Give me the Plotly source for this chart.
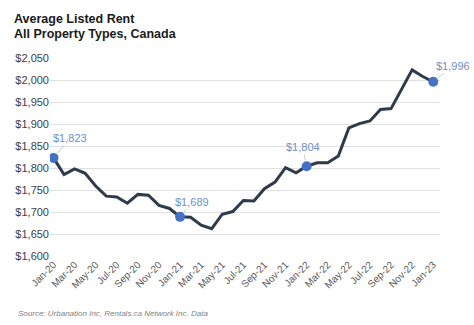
import plotly.graph_objects as go

months = ["Jan-20","Feb-20","Mar-20","Apr-20","May-20","Jun-20","Jul-20","Aug-20","Sep-20","Oct-20","Nov-20","Dec-20",
          "Jan-21","Feb-21","Mar-21","Apr-21","May-21","Jun-21","Jul-21","Aug-21","Sep-21","Oct-21","Nov-21","Dec-21",
          "Jan-22","Feb-22","Mar-22","Apr-22","May-22","Jun-22","Jul-22","Aug-22","Sep-22","Oct-22","Nov-22","Dec-22",
          "Jan-23"]
rent = [1823,1785,1798,1788,1759,1736,1734,1720,1740,1738,1715,1708,
        1689,1688,1670,1662,1695,1701,1726,1725,1753,1768,1801,1789,
        1804,1812,1812,1827,1891,1901,1907,1933,1935,1978,2023,2008,
        1996]
highlight_idx = [0, 12, 24, 36]
label_offsets = [(17, -20), (12, -15), (-4, -19), (20, -16)]
y_ticks = list(range(1600, 2051, 50))
title_lines = ["Average Listed Rent", "All Property Types, Canada"]

x = list(range(len(months)))
fig = go.Figure()
fig.add_trace(go.Scatter(x=x, y=rent, mode="lines",
                         line=dict(color="#2f3a4b", width=3), hoverinfo="skip"))
fig.add_trace(go.Scatter(x=[x[i] for i in highlight_idx], y=[rent[i] for i in highlight_idx],
                         mode="markers", marker=dict(color="#4472c4", size=10), hoverinfo="skip"))

for i, (ax, ay) in zip(highlight_idx, label_offsets):
    fig.add_annotation(x=x[i], y=rent[i], text=f"${rent[i]:,}", showarrow=True,
                       arrowhead=0, arrowwidth=1, arrowcolor="#c8c8c8", ax=ax, ay=ay,
                       standoff=6, font=dict(family="Liberation Sans", size=11, color="#6f8fc4"))

PH = 198.0
for k, (line, ypix) in enumerate(zip(title_lines, [19, 34])):
    fig.add_annotation(xref="paper", yref="paper", x=-38/390, y=(256 - ypix) / PH,
                       xanchor="left", yanchor="middle", align="left", showarrow=False,
                       text=f"<b>{line}</b>",
                       font=dict(family="Liberation Sans", size=12.5, color="#1a1a1a"))
fig.add_annotation(xref="paper", yref="paper", x=-34/390, y=-(313-256)/PH,
                   xanchor="left", yanchor="middle", showarrow=False,
                   text="<i>Source: Urbanation Inc, Rentals.ca Network Inc. Data</i>",
                   font=dict(family="Liberation Sans", size=8, color="#7f7f7f"))

fig.update_layout(
    width=474, height=325, margin=dict(l=50, r=34, t=58, b=69),
    paper_bgcolor="white", plot_bgcolor="white", showlegend=False,
    font=dict(family="Liberation Sans", color="#404040"),
    xaxis=dict(range=[-0.33, 36.64], tickvals=x[::2], ticktext=months[::2], tickangle=-45,
               showgrid=False, zeroline=False, showline=False, ticks="",
               tickfont=dict(size=10, color="#595959")),
    yaxis=dict(range=[1600, 2050], tickvals=y_ticks, ticktext=[f"${v:,}" for v in y_ticks],
               showgrid=True, gridcolor="#e0e0e0", gridwidth=1, zeroline=False, showline=False,
               ticks="", tickfont=dict(size=11, color="#404040")),
)
fig.write_html("out.html")
